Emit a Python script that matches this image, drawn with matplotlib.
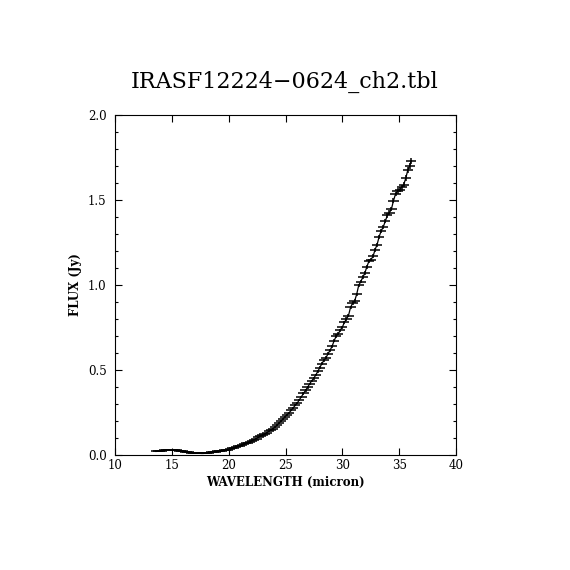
import matplotlib
matplotlib.use("Agg")
import matplotlib.pyplot as plt
from matplotlib.ticker import MultipleLocator, FormatStrFormatter

# spectrum (micron, Jy)
wavelength = [
    13.62, 13.80, 13.98, 14.16, 14.34, 14.52, 14.70, 14.88, 15.06, 15.24,
    15.42, 15.60, 15.78, 15.96, 16.14, 16.32, 16.50, 16.68, 16.86, 17.04,
    17.22, 17.40, 17.58, 17.76, 17.94, 18.12, 18.30, 18.48, 18.66, 18.84,
    19.02, 19.20, 19.38, 19.56, 19.74, 19.92, 20.10, 20.28, 20.46, 20.64,
    20.82, 21.00, 21.18, 21.36, 21.54, 21.72, 21.90, 22.08, 22.26, 22.44,
    22.62, 22.80, 22.98, 23.16, 23.34, 23.52, 23.70, 23.88, 24.06, 24.24,
    24.42, 24.60, 24.78, 24.96, 25.14, 25.32, 25.50, 25.68, 25.86, 26.04,
    26.22, 26.40, 26.58, 26.76, 26.94, 27.12, 27.30, 27.48, 27.66, 27.84,
    28.02, 28.20, 28.38, 28.56, 28.74, 28.92, 29.10, 29.28, 29.46, 29.64,
    29.82, 30.00, 30.18, 30.36, 30.54, 30.72, 30.90, 31.08, 31.26, 31.44,
    31.62, 31.80, 31.98, 32.16, 32.34, 32.52, 32.70, 32.88, 33.06, 33.24,
    33.42, 33.60, 33.78, 33.96, 34.14, 34.32, 34.50, 34.68, 34.86, 35.04,
    35.22, 35.40, 35.58, 35.76, 35.92, 36.06,
]
flux = [
    0.021, 0.022, 0.024, 0.025, 0.027, 0.028, 0.029, 0.030, 0.030, 0.029,
    0.028, 0.026, 0.024, 0.022, 0.020, 0.018, 0.016, 0.014, 0.013, 0.012,
    0.011, 0.010, 0.009, 0.009, 0.010, 0.011, 0.013, 0.015, 0.018, 0.020,
    0.022, 0.024, 0.025, 0.027, 0.029, 0.032, 0.035, 0.039, 0.043, 0.047,
    0.051, 0.055, 0.059, 0.063, 0.068, 0.073, 0.079, 0.085, 0.091, 0.097,
    0.103, 0.110, 0.117, 0.124, 0.131, 0.139, 0.147, 0.155, 0.163, 0.174,
    0.187, 0.199, 0.211, 0.226, 0.237, 0.249, 0.262, 0.278, 0.292, 0.306,
    0.325, 0.343, 0.362, 0.380, 0.398, 0.418, 0.436, 0.451, 0.470, 0.492,
    0.514, 0.538, 0.556, 0.572, 0.595, 0.616, 0.640, 0.672, 0.700, 0.712,
    0.735, 0.752, 0.780, 0.800, 0.820, 0.868, 0.893, 0.905, 0.945, 0.998,
    1.020, 1.045, 1.070, 1.108, 1.140, 1.150, 1.168, 1.208, 1.238, 1.285,
    1.318, 1.342, 1.375, 1.410, 1.425, 1.447, 1.496, 1.535, 1.553, 1.560,
    1.575, 1.590, 1.628, 1.676, 1.700, 1.731,
]
flux_err = [
    0.004, 0.004, 0.004, 0.004, 0.004, 0.004, 0.004, 0.004, 0.004, 0.004,
    0.004, 0.004, 0.004, 0.004, 0.004, 0.004, 0.004, 0.004, 0.004, 0.004,
    0.004, 0.004, 0.004, 0.004, 0.004, 0.004, 0.004, 0.004, 0.004, 0.004,
    0.004, 0.004, 0.004, 0.004, 0.004, 0.004, 0.004, 0.005, 0.005, 0.005,
    0.005, 0.005, 0.005, 0.005, 0.005, 0.005, 0.005, 0.005, 0.005, 0.005,
    0.005, 0.005, 0.005, 0.005, 0.005, 0.005, 0.005, 0.005, 0.005, 0.006,
    0.006, 0.006, 0.006, 0.006, 0.006, 0.006, 0.006, 0.006, 0.006, 0.006,
    0.006, 0.006, 0.007, 0.007, 0.007, 0.007, 0.007, 0.007, 0.007, 0.007,
    0.008, 0.008, 0.008, 0.008, 0.008, 0.008, 0.008, 0.008, 0.009, 0.009,
    0.009, 0.009, 0.009, 0.009, 0.010, 0.010, 0.010, 0.010, 0.010, 0.010,
    0.011, 0.011, 0.011, 0.011, 0.011, 0.011, 0.012, 0.012, 0.012, 0.012,
    0.013, 0.013, 0.013, 0.013, 0.014, 0.014, 0.014, 0.014, 0.015, 0.015,
    0.016, 0.016, 0.017, 0.017, 0.018, 0.018,
]
WL_HALFBIN = 0.45

TITLE = "IRASF12224\u22120624_ch2.tbl"
XLABEL = "WAVELENGTH (micron)"
YLABEL = "FLUX (Jy)"

SERIF = ["DejaVu Serif"]

fig = plt.figure(figsize=(5.7, 5.7), dpi=100)
ax = fig.add_axes([115 / 570, 115 / 570, 341 / 570, 340 / 570])

ax.plot(wavelength, flux, color="black", lw=0.9, zorder=2)
ax.errorbar(wavelength, flux, xerr=WL_HALFBIN, yerr=flux_err, fmt="none",
            ecolor="black", elinewidth=1.1, capsize=0, zorder=3)

ax.set_xlim(10, 40)
ax.set_ylim(0, 2.0)
ax.xaxis.set_major_locator(MultipleLocator(5))
ax.yaxis.set_major_locator(MultipleLocator(0.5))
ax.yaxis.set_minor_locator(MultipleLocator(0.1))
ax.yaxis.set_major_formatter(FormatStrFormatter("%.1f"))

ax.tick_params(which="both", direction="in", top=True, right=True, width=0.8,
               labelsize=8.5, colors="black")
ax.tick_params(which="major", length=5)
ax.tick_params(which="minor", length=2.2)
ax.tick_params(axis="x", pad=3)
ax.tick_params(axis="y", pad=6)
for lab in ax.get_xticklabels() + ax.get_yticklabels():
    lab.set_family(SERIF)
for sp in ax.spines.values():
    sp.set_linewidth(0.8)

ax.set_xlabel(XLABEL, family=SERIF, fontsize=8.5, fontweight="bold", labelpad=3)
ax.set_ylabel(YLABEL, family=SERIF, fontsize=8.5, fontweight="bold", labelpad=4)
fig.text(0.5, 1 - 82 / 570, TITLE, family=SERIF, fontsize=16, ha="center", va="center")

fig.savefig("out.png", dpi=100, facecolor="white")
